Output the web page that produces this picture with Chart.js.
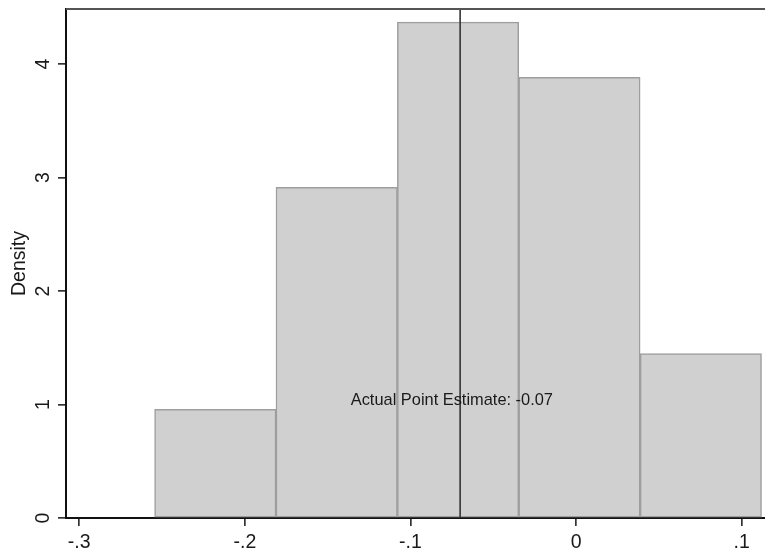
<!DOCTYPE html>
<html>
<head>
<meta charset="utf-8">
<script src="https://cdn.jsdelivr.net/npm/chart.js@4.4.1/dist/chart.umd.min.js"></script>
<style>
html,body{margin:0;padding:0;background:#fff;overflow:hidden}
#wrap{width:765px;height:554px;position:relative}
</style>
</head>
<body>
<div id="wrap"><canvas id="c"></canvas></div>
<script>
// ---- data ----
const binEdges = [-0.2545, -0.1812, -0.1079, -0.0346, 0.0387, 0.1120];
const densities = [0.958, 2.914, 4.370, 3.883, 1.448];
const pointEstimate = -0.07;
const annotationText = 'Actual Point Estimate: -0.07';
const annotationX = -0.075;
const annotationY = 1.0;
const xTicks = [-0.3, -0.2, -0.1, 0, 0.1];
const yTicks = [0, 1, 2, 3, 4];
const xRange = [-0.308, 0.1141];
const yRange = [0, 4.485];
const yTitle = 'Density';

const FONT = '"Liberation Sans", Arial, Helvetica, sans-serif';
Chart.defaults.font.family = FONT;
Chart.defaults.color = '#1a1a1a';

const barData = densities.map((d, i) => ({ x: (binEdges[i] + binEdges[i + 1]) / 2, y: d }));
const lineData = [{ x: pointEstimate, y: yRange[0] }, { x: pointEstimate, y: yRange[1] }];

function fmtX(v) {
  if (Math.abs(v) < 1e-9) return '0';
  const s = Math.abs(v).toFixed(1).replace(/^0/, '');
  return (v < 0 ? '-' : '') + s;
}
function fmtY(v) { return String(Math.round(v)); }

const framePlugin = {
  id: 'frame',
  afterDatasetsDraw(chart) {
    const { ctx, chartArea: a, scales } = chart;
    ctx.save();
    ctx.strokeStyle = '#555';
    ctx.lineWidth = 2;
    ctx.beginPath();
    ctx.moveTo(a.left, a.top);
    ctx.lineTo(a.right, a.top);
    ctx.stroke();
    ctx.font = '16.4px ' + FONT;
    ctx.fillStyle = '#1a1a1a';
    ctx.textAlign = 'center';
    ctx.textBaseline = 'alphabetic';
    ctx.fillText(annotationText, scales.x.getPixelForValue(annotationX), scales.y.getPixelForValue(annotationY));
    ctx.restore();
  }
};

new Chart(document.getElementById('c'), {
  type: 'bar',
  data: {
    datasets: [
      {
        type: 'bar',
        data: barData,
        backgroundColor: '#d0d0d0',
        borderColor: '#9e9e9e',
        borderWidth: 1.5,
        borderSkipped: false,
        barPercentage: 1,
        categoryPercentage: 1,
        order: 2
      },
      {
        type: 'scatter',
        data: lineData,
        showLine: true,
        borderColor: '#333',
        borderWidth: 1.6,
        pointRadius: 0,
        order: 1
      }
    ]
  },
  options: {
    responsive: true,
    maintainAspectRatio: false,
    animation: false,
    devicePixelRatio: 1,
    layout: { padding: { top: 9, right: 0, bottom: 0, left: 0 } },
    plugins: { legend: { display: false }, tooltip: { enabled: false } },
    scales: {
      x: {
        type: 'linear',
        offset: false,
        min: xRange[0],
        max: xRange[1],
        afterBuildTicks: s => { s.ticks = xTicks.map(v => ({ value: v })); },
        afterFit: s => { s.height = 36; s.paddingLeft = 0; s.paddingRight = 0; },
        ticks: { callback: v => fmtX(v), font: { size: 19.5 }, color: '#1a1a1a', padding: 5.3, maxRotation: 0, autoSkip: false },
        grid: { display: true, offset: false, drawOnChartArea: false, drawTicks: true, tickLength: 8, color: '#333', lineWidth: 1.7 },
        border: { display: true, color: '#111', width: 2 }
      },
      y: {
        min: yRange[0],
        max: yRange[1],
        afterBuildTicks: s => { s.ticks = yTicks.map(v => ({ value: v })); },
        afterFit: s => { s.width = 66; s.paddingTop = 0; s.paddingBottom = 0; },
        ticks: { callback: v => fmtY(v), font: { size: 19.5 }, color: '#1a1a1a', padding: 9.4, minRotation: 90, maxRotation: 90, crossAlign: 'center' },
        grid: { display: true, drawOnChartArea: false, drawTicks: true, tickLength: 8, color: '#333', lineWidth: 1.7 },
        border: { display: true, color: '#111', width: 2 },
        title: { display: true, text: yTitle, font: { size: 19.5 }, color: '#1a1a1a', padding: { top: 8.3, bottom: 0 } }
      }
    }
  },
  plugins: [framePlugin]
});
</script>
</body>
</html>
